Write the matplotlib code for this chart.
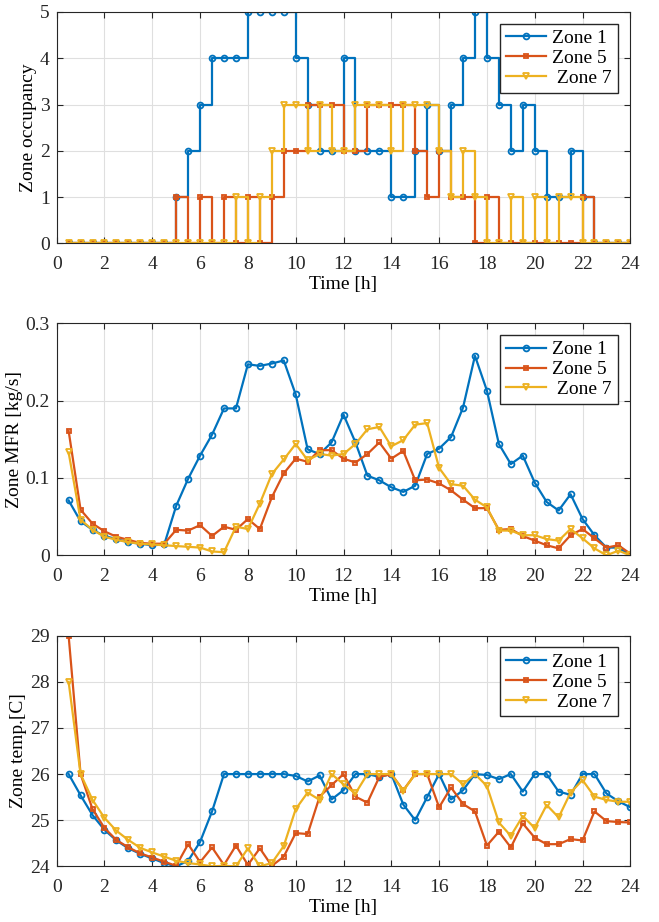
import numpy as np
import matplotlib
matplotlib.use('Agg')
from matplotlib import pyplot as plt

plt.rcParams['font.family'] = ['Liberation Serif', 'DejaVu Serif']
plt.rcParams['font.size'] = 14

# time axis, half hour steps
t = np.arange(1, 49) * 0.5

labels = ['Zone 1', 'Zone 5', ' Zone 7']
colors = ['#0072BD', '#D95319', '#EDB120']
markers = ['o', 's', 'v']
msizes = [4.2, 3.0, 4.8]

# zone occupancy (people)
occ_z1 = [0, 0, 0, 0, 0, 0, 0, 0, 0, 1, 2, 3, 4, 4, 4, 5, 5, 5, 5, 4, 3, 2, 2, 4,
          2, 2, 2, 1, 1, 2, 3, 2, 3, 4, 5, 4, 3, 2, 3, 2, 1, 1, 2, 1, 0, 0, 0, 0]
occ_z5 = [0, 0, 0, 0, 0, 0, 0, 0, 0, 1, 0, 1, 0, 1, 0, 1, 0, 1, 2, 2, 3, 3, 3, 2,
          2, 3, 3, 3, 3, 2, 1, 2, 1, 1, 0, 1, 0, 0, 0, 0, 0, 0, 0, 1, 0, 0, 0, 0]
occ_z7 = [0, 0, 0, 0, 0, 0, 0, 0, 0, 0, 0, 0, 0, 0, 1, 0, 1, 2, 3, 3, 2, 3, 2, 2,
          3, 3, 3, 2, 3, 3, 3, 2, 1, 2, 1, 0, 0, 1, 0, 1, 0, 1, 1, 0, 0, 0, 0, 0]

# zone mass flow rate [kg/s]
mfr_z1 = [0.071, 0.044, 0.033, 0.025, 0.021, 0.017, 0.015, 0.013, 0.014, 0.064,
          0.099, 0.129, 0.156, 0.190, 0.190, 0.247, 0.245, 0.248, 0.252, 0.208,
          0.137, 0.131, 0.146, 0.182, 0.146, 0.103, 0.097, 0.088, 0.082, 0.090,
          0.131, 0.138, 0.153, 0.191, 0.258, 0.213, 0.144, 0.118, 0.129, 0.094,
          0.069, 0.058, 0.079, 0.047, 0.026, 0.010, 0.010, 0.000]
mfr_z5 = [0.161, 0.059, 0.041, 0.031, 0.024, 0.020, 0.016, 0.015, 0.015, 0.033,
          0.032, 0.039, 0.025, 0.037, 0.033, 0.047, 0.034, 0.075, 0.106, 0.125,
          0.121, 0.136, 0.136, 0.125, 0.120, 0.131, 0.146, 0.125, 0.135, 0.097,
          0.098, 0.093, 0.084, 0.072, 0.061, 0.061, 0.033, 0.034, 0.025, 0.019,
          0.013, 0.009, 0.026, 0.034, 0.022, 0.010, 0.013, 0.002]
mfr_z7 = [0.133, 0.046, 0.033, 0.024, 0.020, 0.017, 0.015, 0.014, 0.013, 0.012,
          0.011, 0.010, 0.005, 0.004, 0.037, 0.034, 0.067, 0.105, 0.124, 0.144,
          0.123, 0.131, 0.129, 0.131, 0.144, 0.163, 0.166, 0.141, 0.149, 0.169,
          0.171, 0.113, 0.092, 0.090, 0.072, 0.062, 0.032, 0.032, 0.026, 0.026,
          0.021, 0.019, 0.034, 0.022, 0.009, 0.000, 0.006, 0.000]

# zone temperature [C]
tmp_z1 = [26.0, 25.54, 25.11, 24.79, 24.56, 24.39, 24.27, 24.17, 24.07, 24.0,
          24.12, 24.53, 25.19, 26.0, 26.0, 26.0, 26.0, 26.0, 26.0, 25.96,
          25.84, 25.97, 25.45, 25.65, 26.0, 26.0, 25.94, 26.0, 25.34, 25.0,
          25.50, 26.0, 25.45, 25.65, 26.0, 25.98, 25.89, 26.0, 25.62, 26.0,
          26.0, 25.62, 25.55, 26.0, 26.0, 25.58, 25.41, 25.28]
tmp_z5 = [29.0, 26.0, 25.24, 24.83, 24.57, 24.41, 24.28, 24.19, 24.10, 24.01,
          24.48, 24.09, 24.41, 24.03, 24.45, 24.03, 24.39, 24.01, 24.21, 24.72,
          24.70, 25.51, 25.76, 26.0, 25.51, 25.38, 25.94, 26.0, 25.65, 26.0,
          26.0, 25.28, 25.71, 25.35, 25.19, 24.45, 24.75, 24.41, 24.93, 24.62,
          24.48, 24.48, 24.59, 24.56, 25.19, 24.98, 24.96, 24.95]
tmp_z7 = [28.0, 26.0, 25.44, 25.05, 24.77, 24.57, 24.40, 24.30, 24.21, 24.12,
          24.07, 24.04, 24.0, 24.01, 24.0, 24.39, 24.0, 24.07, 24.44, 25.24,
          25.60, 25.44, 26.0, 25.78, 25.58, 26.0, 26.0, 26.0, 25.64, 26.0,
          26.0, 26.0, 26.0, 25.78, 26.0, 25.74, 24.95, 24.66, 25.09, 24.83,
          25.33, 25.06, 25.60, 25.87, 25.51, 25.44, 25.40, 25.40]

fig = plt.figure(figsize=(6.59, 9.22), dpi=100)
left, width = 0.086, 0.8705
ax1 = fig.add_axes([left, 0.7361, width, 0.2509])
ax2 = fig.add_axes([left, 0.3977, width, 0.2516])
ax3 = fig.add_axes([left, 0.0604, width, 0.2501])


def style(ax, ylim, yticks, ylabel):
    ax.set_xlim(0, 24)
    ax.set_xticks(range(0, 25, 2))
    ax.set_ylim(*ylim)
    ax.set_yticks(yticks)
    ax.grid(True, color='#dfdfdf', linewidth=0.8)
    ax.set_axisbelow(True)
    for s in ax.spines.values():
        s.set_color('#262626')
        s.set_linewidth(0.8)
    ax.tick_params(direction='in', top=True, right=True, length=4,
                   color='#262626', labelcolor='#262626', pad=5)
    ax.tick_params(axis='x', pad=9)
    ax.set_xlabel('Time [h]', labelpad=2)
    ax.set_ylabel(ylabel, labelpad=2)
    ax.legend(loc='upper right', bbox_to_anchor=(0.978, 0.95), fancybox=False,
              edgecolor='#262626', framealpha=1, handlelength=2.1,
              borderpad=0.3, labelspacing=0.12, handletextpad=0.3,
              borderaxespad=0)


occ = [occ_z1, occ_z5, occ_z7]
for y, lab, c, m, ms in zip(occ, labels, colors, markers, msizes):
    ax1.plot(t, y, drawstyle='steps-post', color=c, marker=m, ms=ms,
             mfc='none', mew=1.3, lw=1.6, label=lab)
style(ax1, (0, 5), range(0, 6), 'Zone occupancy')

mfr = [mfr_z1, mfr_z5, mfr_z7]
for y, lab, c, m, ms in zip(mfr, labels, colors, markers, msizes):
    ax2.plot(t, y, color=c, marker=m, ms=ms, mfc='none', mew=1.3, lw=1.6,
             label=lab)
style(ax2, (0, 0.3), [0, 0.1, 0.2, 0.3], 'Zone MFR [kg/s]')
ax2.set_yticklabels(['0', '0.1', '0.2', '0.3'])

tmp = [tmp_z1, tmp_z5, tmp_z7]
for y, lab, c, m, ms in zip(tmp, labels, colors, markers, msizes):
    ax3.plot(t, y, color=c, marker=m, ms=ms, mfc='none', mew=1.3, lw=1.6,
             label=lab)
style(ax3, (24, 29), range(24, 30), 'Zone temp.[C]')

fig.savefig('out.png', dpi=100)
